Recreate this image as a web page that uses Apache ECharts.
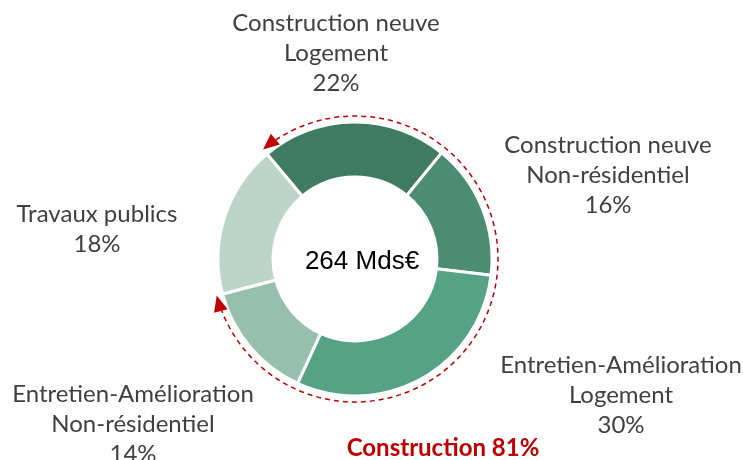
<!DOCTYPE html>
<html>
<head>
<meta charset="utf-8">
<script src="https://cdn.jsdelivr.net/npm/echarts@6/dist/echarts.min.js"></script>
<style>
  html, body { margin: 0; padding: 0; background: #fff; }
  #chart { width: 743px; height: 460px; }
</style>
</head>
<body>
<div id="chart"></div>
<script>
// Répartition de l'activité BTP (264 Mds€)
const categories = [
  'Construction neuve\nLogement',
  'Construction neuve\nNon-résidentiel',
  'Entretien-Amélioration\nLogement',
  'Entretien-Amélioration\nNon-résidentiel',
  'Travaux publics'
];
const shares = [22, 16, 30, 14, 18];
const constructionCount = 4; // first four slices = construction
const totalLabel = '264 Mds€';
const constructionLabel = 'Construction 81%';

const colors = ['#3f7a62', '#4b8c73', '#55a287', '#97bfae', '#bcd4c9'];
// label block centres (px)
const labelPos = [[336, 53], [608, 175], [621, 395], [133, 424], [97, 229]];

const cx = 355, cy = 259;
const startAngle = 130; // echarts degrees, ccw from 3 o'clock
const arcR = 143;
const red = '#c00000';

const chart = echarts.init(document.getElementById('chart'));

// dashed arc spanning the construction slices, derived from the data
const total = shares.reduce((a, b) => a + b, 0);
const consShare = shares.slice(0, constructionCount).reduce((a, b) => a + b, 0) / total;
const a0 = -startAngle * Math.PI / 180;           // canvas angle of slice start
const a1 = a0 + consShare * 2 * Math.PI;           // canvas angle of construction end
const headLen = 16, headW = 14;
const dA = headLen / arcR;

function arrowHead(a, dir) {
  // dir = -1 : points counter-clockwise, +1 : points clockwise
  const px = cx + arcR * Math.cos(a), py = cy + arcR * Math.sin(a);
  const tx = -Math.sin(a) * dir, ty = Math.cos(a) * dir;
  const nx = Math.cos(a), ny = Math.sin(a);
  const bx = px - tx * headLen, by = py - ty * headLen;
  return {
    type: 'polygon',
    shape: { points: [[px, py], [bx + nx * headW / 2, by + ny * headW / 2], [bx - nx * headW / 2, by - ny * headW / 2]] },
    style: { fill: red },
    z: 10
  };
}

chart.setOption({
  backgroundColor: '#fff',
  animation: false,
  series: [{
    type: 'pie',
    center: [cx, cy],
    radius: [82, 137],
    startAngle: startAngle,
    clockwise: true,
    avoidLabelOverlap: false,
    data: categories.map((name, i) => ({ name, value: shares[i], itemStyle: { color: colors[i] } })),
    itemStyle: { borderColor: '#fff', borderWidth: 3 },
    label: {
      show: true,
      formatter: p => p.name + '\n' + p.value + '%',
      fontFamily: 'Lato',
      fontSize: 24,
      lineHeight: 30,
      color: '#404040',
      align: 'center'
    },
    labelLine: { show: false },
    labelLayout: p => ({
      x: labelPos[p.dataIndex][0],
      y: labelPos[p.dataIndex][1],
      align: 'center',
      verticalAlign: 'middle'
    }),
    emphasis: { disabled: true }
  }],
  graphic: [
    {
      type: 'arc',
      shape: { cx, cy, r: arcR, startAngle: a0 + dA, endAngle: a1 - dA, clockwise: true },
      style: { stroke: red, lineWidth: 1.5, lineDash: [5, 4], fill: null },
      z: 10
    },
    arrowHead(a0, -1),
    arrowHead(a1, 1),
    {
      type: 'text',
      x: 362, y: 262,
      style: {
        text: totalLabel,
        fontFamily: 'Liberation Sans, Arial',
        fontSize: 26,
        fill: '#000',
        align: 'center',
        verticalAlign: 'middle'
      },
      z: 10
    },
    {
      type: 'text',
      x: 443, y: 448,
      style: {
        text: constructionLabel,
        fontFamily: 'Lato',
        fontWeight: 'bold',
        fontSize: 24,
        fill: red,
        align: 'center',
        verticalAlign: 'middle'
      },
      z: 10
    }
  ]
});
</script>
</body>
</html>
